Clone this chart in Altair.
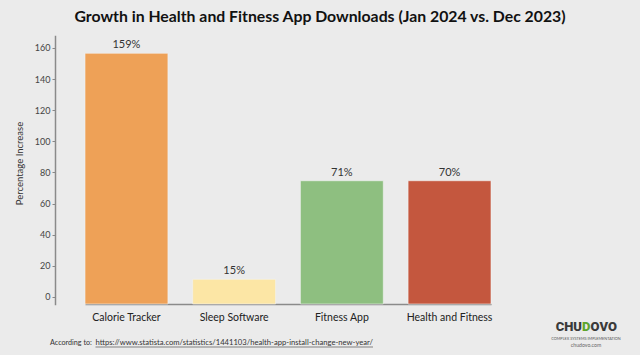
import altair as alt
import pandas as pd

categories = ["Calorie Tracker", "Sleep Software", "Fitness App", "Health and Fitness"]
bar_values = [156.6, 11.4, 74.7, 74.7]
label_texts = ["159%", "15%", "71%", "70%"]
colors = ["#EEA157", "#FCE6A5", "#8EBF80", "#C4573E"]
y_ticks = [0, 20, 40, 60, 80, 100, 120, 140, 160]

FONT = "Lato"
df = pd.DataFrame({"cat": categories, "val": bar_values, "label": label_texts, "color": colors})

W, H = 488, 268
x_scale = alt.Scale(range=[30, 436], paddingInner=0.23, paddingOuter=0)
x_axis = alt.Axis(labelAngle=0, labelFontSize=10.5, labelColor="#222", labelFont=FONT,
                  ticks=False, labelPadding=8, domainColor="#8a8a8a", domainWidth=1.5)
y_scale = alt.Scale(domain=[-4.5, 167.7], nice=False, zero=False)
y_axis = alt.Axis(values=y_ticks, labelFontSize=9, labelColor="#444", labelFont=FONT,
                  labelOverlap=False,
                  tickColor="#888", tickSize=3, labelPadding=2, grid=False,
                  domainColor="#8a8a8a", domainWidth=1.5,
                  titleFont=FONT, titleFontSize=9.5, titleFontWeight="normal",
                  titleColor="#333", titleX=-31, titleY=127)

bars = alt.Chart(df).mark_bar(stroke="#f4f4f4", strokeWidth=0.6).encode(
    x=alt.X("cat:N", sort=categories, title=None, scale=x_scale, axis=x_axis),
    y=alt.Y("val:Q", scale=y_scale, title="Percentage Increase", axis=y_axis),
    y2=alt.datum(-4.5),
    color=alt.Color("color:N", scale=None),
)

labels = alt.Chart(df).mark_text(baseline="bottom", dy=-3, fontSize=11, color="#333", font=FONT).encode(
    x=alt.X("cat:N", sort=categories, title=None, scale=x_scale, axis=x_axis),
    y=alt.Y("val:Q", scale=y_scale, title="Percentage Increase", axis=y_axis),
    text="label:N",
)

footer_df = pd.DataFrame({"t": ["According to:"], "u": ["https://www.statista.com/statistics/1441103/health-app-install-change-new-year/"]})
footer1 = alt.Chart(footer_df).mark_text(align="left", baseline="middle", fontSize=7.2, color="#333", font=FONT).encode(
    x=alt.value(-5), y=alt.value(307), text="t:N")
footer2 = alt.Chart(footer_df).mark_text(align="left", baseline="middle", fontSize=7.65, color="#333", font=FONT).encode(
    x=alt.value(40.5), y=alt.value(307), text="u:N")
underline = alt.Chart(footer_df).mark_rule(color="#555", strokeWidth=0.7).encode(
    x=alt.value(40.5), x2=alt.value(318), y=alt.value(311))

logo_df = pd.DataFrame({"a": ["CHU"], "d": ["D"], "b": ["OVO"], "s": ["COMPLEX SYSTEMS IMPLEMENTATION"], "w": ["chudovo.com"]})
logo1 = alt.Chart(logo_df).mark_text(align="right", baseline="middle", fontSize=13, fontWeight=900, color="#3a3a3a", font="Roboto").encode(
    x=alt.value(527), y=alt.value(291), text="a:N")
logo2 = alt.Chart(logo_df).mark_text(align="center", baseline="middle", fontSize=13, fontWeight=900, color="#5FA52E", font="Roboto").encode(
    x=alt.value(531.3), y=alt.value(291), text="d:N")
logo3 = alt.Chart(logo_df).mark_text(align="left", baseline="middle", fontSize=13, fontWeight=900, color="#3a3a3a", font="Roboto").encode(
    x=alt.value(535.6), y=alt.value(291), text="b:N")
logo4 = alt.Chart(logo_df).mark_text(align="center", baseline="middle", fontSize=3.8, color="#555", font=FONT).encode(
    x=alt.value(531), y=alt.value(303), text="s:N")
logo5 = alt.Chart(logo_df).mark_text(align="center", baseline="middle", fontSize=5.2, color="#666", font=FONT).encode(
    x=alt.value(531), y=alt.value(308.5), text="w:N")

chart = alt.layer(bars, labels, footer1, footer2, underline, logo1, logo2, logo3, logo4, logo5).properties(
    width=W, height=H,
    title=alt.TitleParams("Growth in Health and Fitness App Downloads (Jan 2024 vs. Dec 2023)",
                          font=FONT, fontSize=15.8, fontWeight="bold", color="#111",
                          anchor="middle", dx=21, offset=10),
    padding={"left": 55, "top": 36, "right": 97, "bottom": 51},
    autosize=alt.AutoSizeParams(type="none"),
    background="#EBEBEB",
).configure_view(stroke=None).configure_axisY(domainCap="square")

chart.save("out.html", embed_options={"renderer": "svg", "actions": False})
